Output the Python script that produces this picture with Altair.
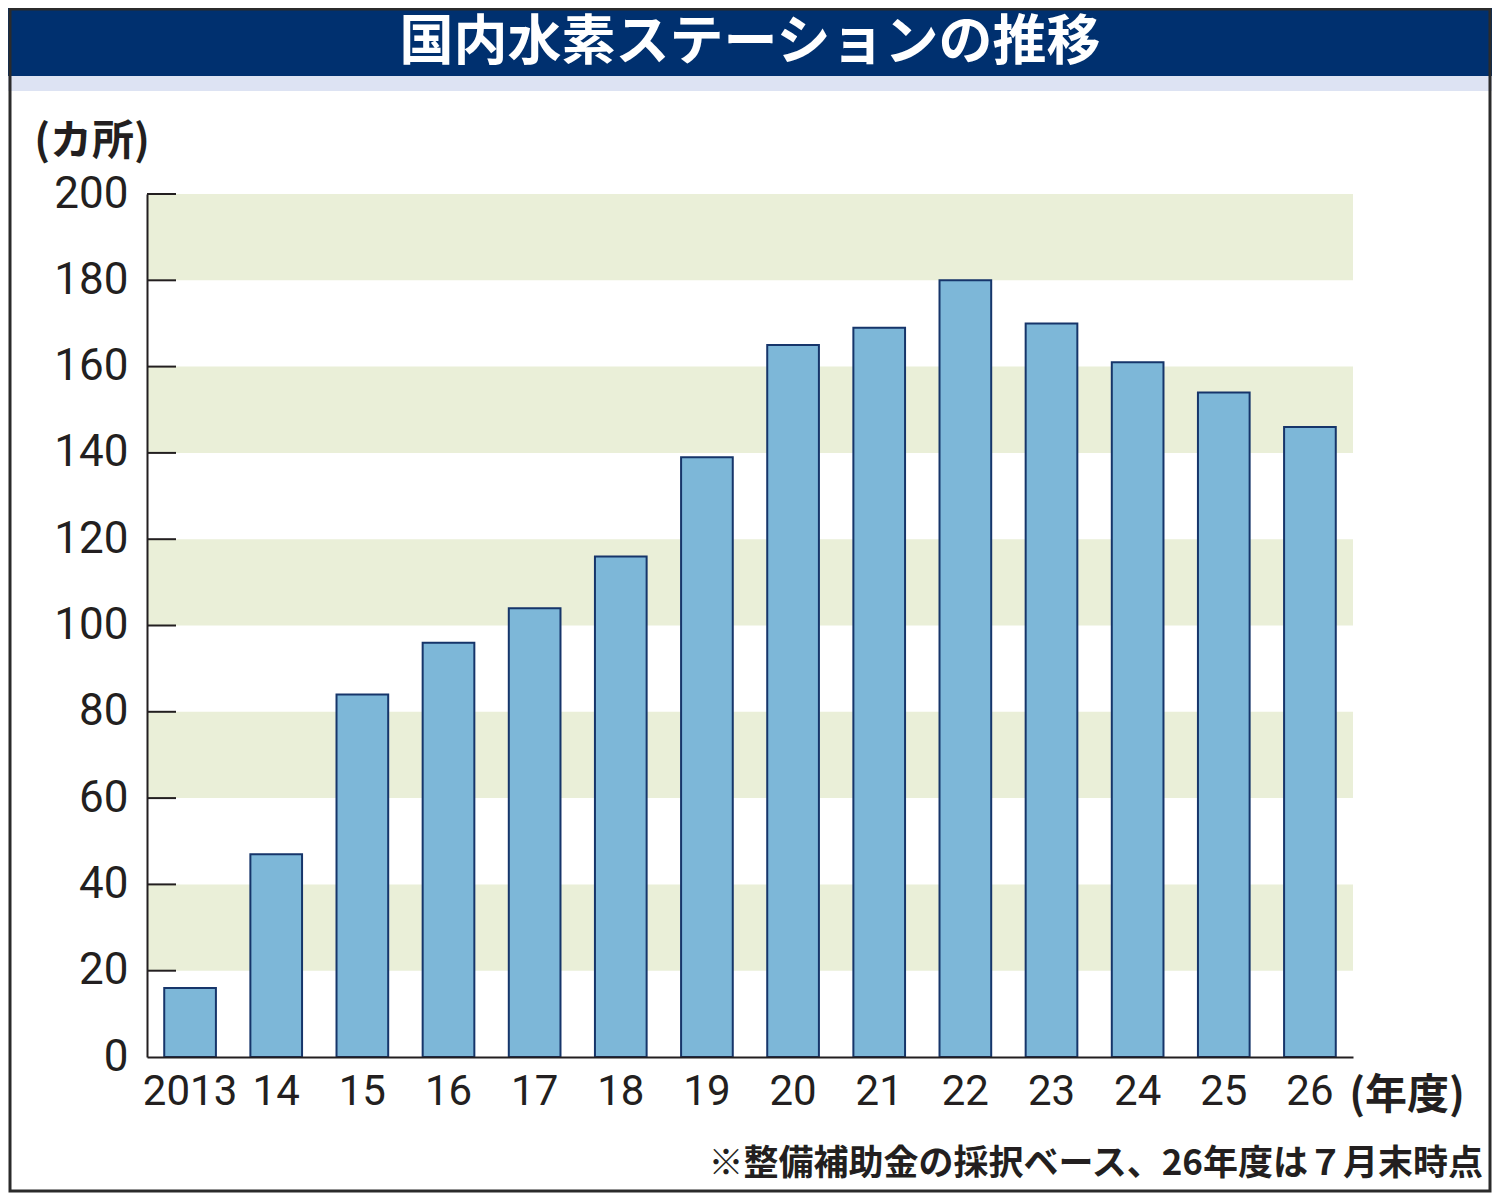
import altair as alt
import pandas as pd

# ---- data ----
years = ["2013", "14", "15", "16", "17", "18", "19", "20", "21", "22", "23", "24", "25", "26"]
stations = [16, 47, 84, 96, 104, 116, 139, 165, 169, 180, 170, 161, 154, 146]
band_lo = [20, 60, 100, 140, 180]
band_hi = [40, 80, 120, 160, 200]
tick_vals = [20, 40, 60, 80, 100, 120, 140, 160, 180, 200]
y_labels = [0, 20, 40, 60, 80, 100, 120, 140, 160, 180, 200]

title_text = "国内水素ステーションの推移"
unit_text = "(カ所)"
xunit_text = "(年度)"
note_text = "※整備補助金の採択ベース、26年度は７月末時点"

W, H = 1206, 863
NUM = "Roboto, sans-serif"
JP = "Noto Sans CJK JP"
INK = "#231f20"

df = pd.DataFrame({"year": years, "n": stations})
bands = pd.DataFrame({"lo": band_lo, "hi": band_hi})
ticks = pd.DataFrame({"t": tick_vals})
one = pd.DataFrame({"k": [0]})

yscale = alt.Scale(domain=[0, 200], nice=False)

# decorations (frame, title band)
navy = alt.Chart(one).mark_rect(color="#00306f").encode(
    x=alt.value(-139), x2=alt.value(1345), y=alt.value(-186), y2=alt.value(-118))
lav = alt.Chart(one).mark_rect(color="#dde3f3").encode(
    x=alt.value(-139), x2=alt.value(1345), y=alt.value(-118), y2=alt.value(-103))
frame = alt.Chart(one).mark_rect(fill=None, stroke="#2b2b2b", strokeWidth=3).encode(
    x=alt.value(-137), x2=alt.value(1343), y=alt.value(-185), y2=alt.value(997))

band_layer = alt.Chart(bands).mark_rect(color="#eaefd8").encode(
    y=alt.Y("lo:Q", scale=yscale), y2="hi:Q", x=alt.value(0), x2=alt.value(W))

bars = alt.Chart(df).mark_bar(color="#7db7d8", stroke="#16356a", strokeWidth=2).encode(
    x=alt.X("year:N", sort=years,
            scale=alt.Scale(paddingInner=0.4, paddingOuter=0.2),
            axis=alt.Axis(title=None, labelAngle=0, labelFont=NUM, labelFontSize=42,
                          labelColor=INK, labelPadding=14, ticks=False,
                          domainColor=INK, domainWidth=2, zindex=1)),
    y=alt.Y("n:Q", scale=yscale,
            axis=alt.Axis(title=None, values=y_labels, labelFont=NUM, labelFontSize=44,
                          labelColor=INK, labelPadding=19, ticks=False, grid=False,
                          domainColor=INK, domainWidth=2, zindex=1,
                          labelBaseline="middle")),
)

tick_layer = alt.Chart(ticks).mark_rule(color=INK, strokeWidth=2).encode(
    y=alt.Y("t:Q", scale=yscale), x=alt.value(0), x2=alt.value(29))

title = alt.Chart(one).mark_text(text=title_text, font=JP, fontSize=54, fontWeight="bold",
                                 color="white", align="center", baseline="middle").encode(
    x=alt.value(603), y=alt.value(-150))
unit = alt.Chart(one).mark_text(text=unit_text, font=JP, fontSize=42, fontWeight="bold",
                                color=INK, align="center", baseline="middle").encode(
    x=alt.value(-55), y=alt.value(-52))
xunit = alt.Chart(one).mark_text(text=xunit_text, font=JP, fontSize=42, fontWeight="bold",
                                 color=INK, align="center", baseline="middle").encode(
    x=alt.value(1260), y=alt.value(902))
note = alt.Chart(one).mark_text(text=note_text, font=JP, fontSize=35, fontWeight="bold",
                                color=INK, align="right", baseline="middle").encode(
    x=alt.value(1336), y=alt.value(970))

chart = alt.layer(navy, lav, frame, band_layer, bars, tick_layer, title, unit, xunit, note).resolve_scale(
    y="shared").properties(
    width=W, height=H,
    padding={"left": 139, "top": 186, "right": 139, "bottom": 136},
    autosize=alt.AutoSizeParams(type="none"),
    background="white",
).configure_view(stroke=None)

chart.save("out.html", embed_options={"renderer": "svg", "actions": False})
